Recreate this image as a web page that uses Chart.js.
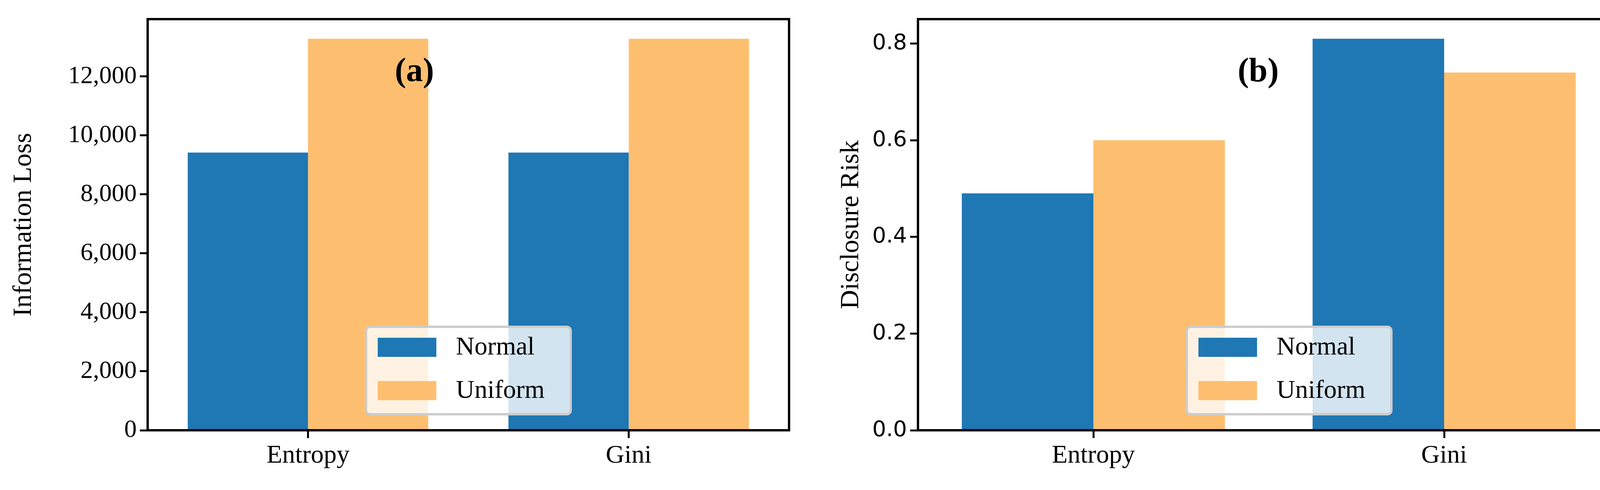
<!DOCTYPE html>
<html><head><meta charset="utf-8">
<script src="https://cdn.jsdelivr.net/npm/chart.js@4"></script>
<style>html,body{margin:0;padding:0;background:#fff;width:4236px;height:1255px;overflow:hidden}
.p{position:absolute;top:0;width:2118px;height:1255px}</style></head>
<body>
<div class="p" style="left:0"><canvas id="a"></canvas></div>
<div class="p" style="left:2118px"><canvas id="b"></canvas></div>
<script>
const categories = ["Entropy", "Gini"];
const seriesNames = ["Normal", "Uniform"];
const lossNormal = [9420, 9420];
const lossUniform = [13280, 13280];
const riskNormal = [0.49, 0.81];
const riskUniform = [0.60, 0.74];
const lossTicks = [0, 2000, 4000, 6000, 8000, 10000, 12000];
const riskTicks = [0, 0.2, 0.4, 0.6, 0.8];
const colors = ["#1f77b4", "#fdbf6f"];

const SERIF = "'Liberation Serif', 'DejaVu Serif', serif";
const SANS = "'DejaVu Sans', sans-serif";

function makePlugin(letter, lx, lw, lyTop) {
  return {
    id: 'deco' + letter,
    afterDraw(chart) {
      const c = chart.ctx, a = chart.chartArea;
      c.save();
      const ly = lyTop, lh = 224;
      c.fillStyle = 'rgba(255,255,255,0.8)';
      c.strokeStyle = '#cccccc'; c.lineWidth = 6;
      c.beginPath(); c.roundRect(lx, ly, lw, lh, 10); c.fill(); c.stroke();
      chart.data.datasets.forEach((ds, i) => {
        const y = ly + 52 + i * 111;
        c.fillStyle = ds.backgroundColor;
        c.fillRect(lx + 30, y - 24, 150, 49);
        c.fillStyle = '#000'; c.font = `66px ${SERIF}`;
        c.textBaseline = 'middle'; c.textAlign = 'left';
        c.fillText(ds.label, lx + 230, y + 2);
      });
      c.font = `bold 86px ${SERIF}`; c.textAlign = 'center'; c.textBaseline = 'middle';
      c.fillStyle = '#000';
      c.fillText('(' + letter + ')', chart.options.plugins.deco.labelX, 186);
      c.strokeStyle = '#000'; c.lineWidth = 6;
      c.strokeRect(a.left, a.top, a.right - a.left, a.bottom - a.top);
      c.restore();
    }
  };
}

function build(id, d1, d2, ymax, yTicks, yTitle, tickFont, tickSize, yWidth, pad, letter, labelX, lx, fmt) {
  new Chart(document.getElementById(id), {
    type: 'bar',
    data: { labels: categories, datasets: [
      {label: seriesNames[0], data: d1, backgroundColor: colors[0], categoryPercentage: 0.75, barPercentage: 1},
      {label: seriesNames[1], data: d2, backgroundColor: colors[1], categoryPercentage: 0.75, barPercentage: 1}
    ]},
    options: {
      responsive: true, maintainAspectRatio: false, animation: false,
      devicePixelRatio: 1,
      layout: {padding: pad},
      plugins: {legend: {display: false}, tooltip: {enabled: false}, deco: {labelX}},
      scales: {
        x: {
          type: 'category', offset: true,
          afterFit: s => { s.height = 120; },
          border: {display: false},
          grid: {drawOnChartArea: false, drawTicks: true, tickLength: 20, tickWidth: 5, tickColor: '#000', offset: false},
          ticks: {color: '#000', font: {family: SERIF, size: 66}, padding: 6, maxRotation: 0}
        },
        y: {
          min: 0, max: ymax,
          afterBuildTicks: s => { s.ticks = yTicks.map(v => ({value: v})); },
          afterFit: s => { s.width = yWidth; },
          border: {display: false},
          grid: {drawOnChartArea: false, drawTicks: true, tickLength: 20, tickWidth: 5, tickColor: '#000'},
          ticks: {color: '#000', font: {family: tickFont, size: tickSize}, padding: 8, callback: fmt},
          title: {display: true, text: yTitle, color: '#000', font: {family: SERIF, size: 68}, padding: 0}
        }
      }
    },
    plugins: [makePlugin(letter, lx, 524, 837)]
  });
}

build('a', lossNormal, lossUniform, 13944, lossTicks, 'Information Loss', SERIF, 64, 358,
  {left: 20, right: 98, top: 49, bottom: 33}, 'a', 1061, 937,
  v => v.toLocaleString('en-US'));
build('b', riskNormal, riskUniform, 0.8505, riskTicks, 'Disclosure Risk', SANS, 56, 212,
  {left: 20, right: 90, top: 49, bottom: 33}, 'b', 1103, 920,
  v => v.toFixed(1));
</script>
</body></html>
